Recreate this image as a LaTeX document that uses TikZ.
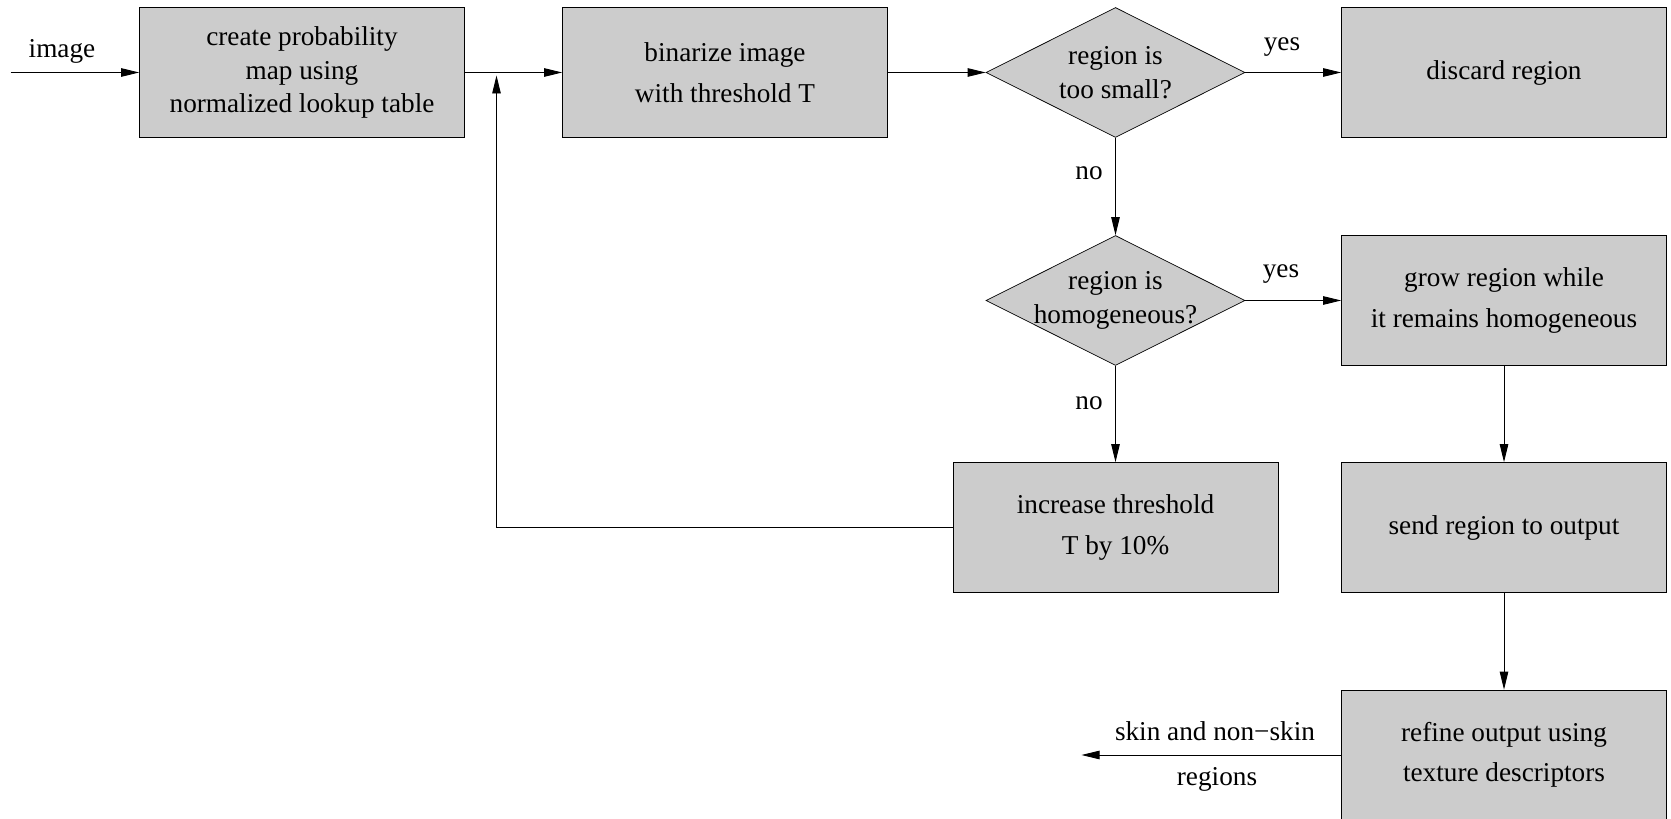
\documentclass[tikz,border=0pt]{standalone}
\usepackage{fontspec}
\setmainfont{Liberation Serif}
\usepackage{tikz}
\usetikzlibrary{shapes.geometric, arrows.meta}
\definecolor{boxgray}{gray}{0.8}

\begin{document}
\begin{tikzpicture}[
    >={Triangle[length=0.36cm, width=0.17cm]},
    proc/.style={rectangle, draw=black, fill=boxgray, minimum width=6.5cm, minimum height=2.6cm, align=center, font=\fontsize{15.5}{23}\selectfont},
    test/.style={diamond, draw=black, fill=boxgray, minimum width=5.18cm, minimum height=2.6cm, inner sep=0pt},
    testtext/.style={align=center, font=\fontsize{15.5}{19.5}\selectfont},
    lbl/.style={font=\fontsize{15.5}{18}\selectfont},
    line/.style={draw=black, line width=0.5pt},
]
    \useasboundingbox (0,0) rectangle (33.42,-16.38);
    % Top row
    \node[proc, font=\fontsize{15.5}{19}\selectfont] (prob) at (6.04,-1.45) {create probability\\map using\\normalized lookup table};
    \node[proc] (bin) at (14.50,-1.45) {binarize image\\with threshold T};
    \node[test] (small) at (22.31,-1.45) {};
    \node[testtext] (smalltxt) at (small.center) {region is\\too small?};
    \node[proc] (discard) at (30.08,-1.45) {discard region};
    % Middle rows
    \node[test] (homog) at (22.31,-6.01) {};
    \node[testtext] (homogtxt) at (homog.center) {region is\\homogeneous?};
    \node[proc] (grow) at (30.08,-6.01) {grow region while\\it remains homogeneous};
    \node[proc] (incr) at (22.31,-10.55) {increase threshold\\T by 10\%};
    \node[proc] (send) at (30.08,-10.55) {send region to output};
    % Bottom row
    \node[proc] (refine) at (30.08,-15.1) {refine output using\\texture descriptors};
    % Free ends
    \coordinate (in) at (0.21,-1.45);
    \coordinate (join) at (9.93,-1.45);
    \coordinate (out) at (21.63,-15.1);
    % Connectors
    \draw[line, ->] (in) -- (prob.west);
    \draw[line, ->] (prob.east) -- (bin.west);
    \draw[line, ->] (bin.east) -- (small.west);
    \draw[line, ->] (small.east) -- (discard.west);
    \draw[line, ->] (small.south) -- (homog.north);
    \draw[line, ->] (homog.east) -- (grow.west);
    \draw[line, ->] (homog.south) -- (incr.north);
    \draw[line, ->] (grow.south) -- (send.north);
    \draw[line, ->] (send.south) -- (refine.north);
    \draw[line, ->] (incr.west) -| ([yshift=-0.06cm]join);
    \draw[line, ->] (refine.west) -- (out);
    % Labels
    \node[lbl] (limage) at (1.24,-1.02) {image};
    \node[lbl] (lyes1) at (25.64,-0.94) {yes};
    \node[lbl] (lno1) at (21.78,-3.47) {no};
    \node[lbl] (lyes2) at (25.62,-5.48) {yes};
    \node[lbl] (lno2) at (21.78,-8.06) {no};
    \node[lbl] (lskin) at (24.30,-14.62) {skin and non−skin};
    \node[lbl] (lreg) at (24.34,-15.58) {regions};
\end{tikzpicture}
\end{document}
